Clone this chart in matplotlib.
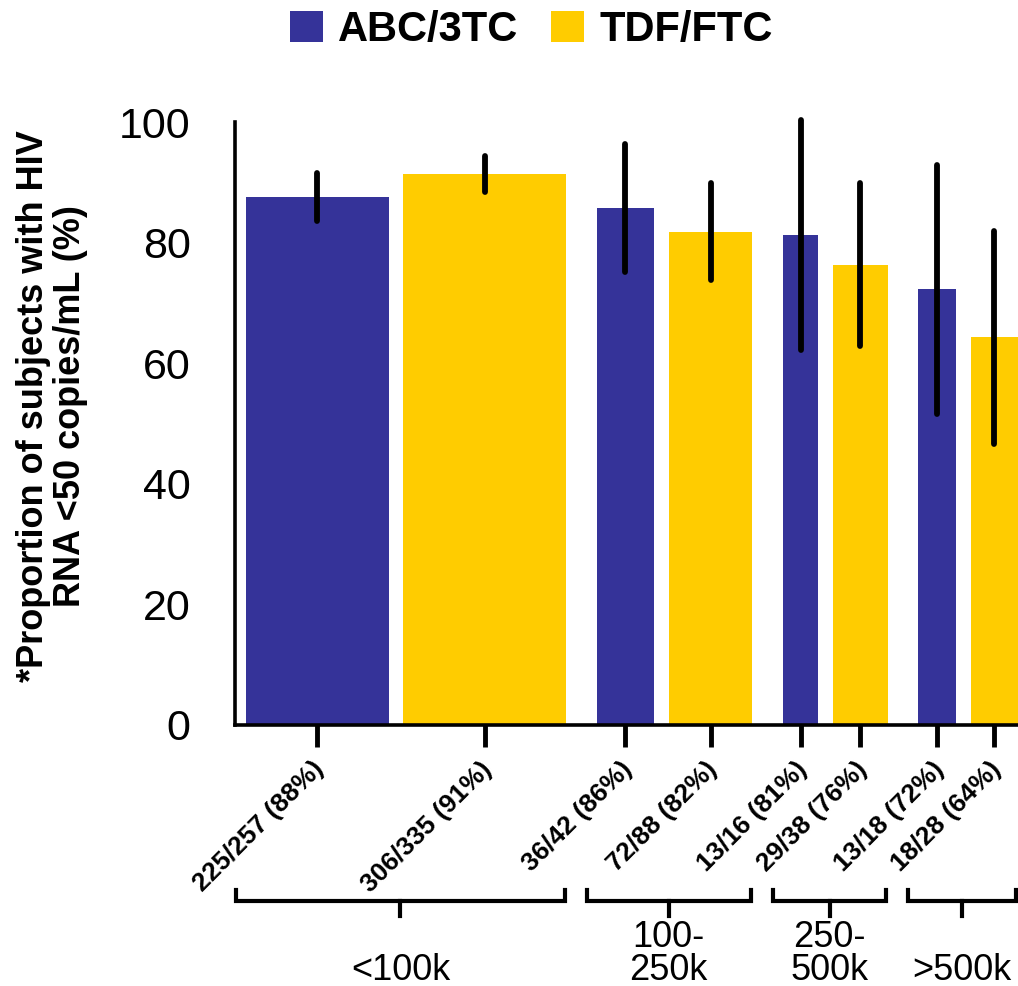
import numpy as np
import matplotlib
matplotlib.use("Agg")
import matplotlib.pyplot as plt
import matplotlib.transforms as mtransforms
from matplotlib.patches import Patch

plt.rcParams['font.family'] = ['Liberation Sans', 'DejaVu Sans']

# Baseline HIV RNA strata
strata = ["<100k", "100-\n250k", "250-\n500k", ">500k"]
regimens = ["ABC/3TC", "TDF/FTC"]

# Subjects with HIV RNA <50 copies/mL / subjects in stratum
abc_resp = [225, 36, 13, 13]
abc_total = [257, 42, 16, 18]
tdf_resp = [306, 72, 29, 18]
tdf_total = [335, 88, 38, 28]

# Half-width of the 95% confidence interval (percentage points)
abc_ci = [4.0, 10.6, 19.1, 20.7]
tdf_ci = [3.0, 8.1, 13.5, 17.7]

colors = {"ABC/3TC": "#353399", "TDF/FTC": "#FFCC00"}

fig = plt.figure(figsize=(10.18, 9.86), dpi=100)
W, H = 1018, 986
ax = fig.add_axes([235 / W, (H - 725) / H, 783 / W, 603 / H])

# bar width grows with the square root of the group size
margin, gap_in, gap_between = 1.25, 1.65, 3.4
x = margin
centers, heights, widths, errs, cols, labels = [], [], [], [], [], []
group_spans = []
for i in range(len(strata)):
    start = x
    for reg, resp, tot, ci in (("ABC/3TC", abc_resp, abc_total, abc_ci),
                               ("TDF/FTC", tdf_resp, tdf_total, tdf_ci)):
        w = np.sqrt(tot[i])
        pct = 100.0 * resp[i] / tot[i]
        centers.append(x + w / 2)
        heights.append(pct)
        widths.append(w)
        errs.append(ci[i])
        cols.append(colors[reg])
        labels.append(f"{resp[i]}/{tot[i]} ({pct:.0f}%)")
        end = x + w
        x += w + gap_in
    group_spans.append((start, end))
    x += gap_between - gap_in

ax.bar(centers, heights, width=widths, color=cols, linewidth=0, zorder=2)
eb = ax.errorbar(centers, heights, yerr=errs, fmt='none', ecolor='black',
                 elinewidth=4.2, capsize=0, zorder=3)
for coll in eb.lines[2]:
    coll.set_capstyle('round')
    coll.set_clip_on(False)

ax.set_xlim(0, 783 / 8.9)
ax.set_ylim(0, 100)
for s in ("top", "right"):
    ax.spines[s].set_visible(False)
for s in ("left", "bottom"):
    ax.spines[s].set_linewidth(2.6)
    ax.spines[s].set_color("black")

ax.set_yticks([0, 20, 40, 60, 80, 100])
ax.tick_params(axis='y', length=0, pad=32, labelsize=31)
ax.set_xticks(centers)
ax.set_xticklabels(labels, rotation=45, ha='right', va='top',
                   rotation_mode='anchor', fontweight='bold', fontsize=19)
ax.tick_params(axis='x', length=16, width=3.5, direction='out', pad=7)
shift = mtransforms.ScaledTranslation(-4 / 72, 0, fig.dpi_scale_trans)
for lab in ax.get_xticklabels():
    lab.set_transform(lab.get_transform() + shift)

# group brackets beneath the tick labels
trans = mtransforms.blended_transform_factory(ax.transData, ax.transAxes)
ftrans = mtransforms.blended_transform_factory(ax.transData, fig.transFigure)
y_bar, y_end, y_tick = -0.292, -0.274, -0.317
for (start, end), name in zip(group_spans, strata):
    left, right = start - 1.1, end - 0.2
    mid = (left + right) / 2
    ax.plot([left, left, right, right], [y_end, y_bar, y_bar, y_end],
            color='black', lw=3, transform=trans, clip_on=False,
            solid_joinstyle='miter')
    ax.plot([mid, mid], [y_bar, y_tick], color='black', lw=3,
            transform=trans, clip_on=False)
    ax.text(mid, -0.002, name, transform=ftrans, ha='center', va='bottom',
            fontsize=26, linespacing=0.92, multialignment='center')

fig.text(52 / W, 1 - 406 / H,
         "*Proportion of subjects with HIV\nRNA <50 copies/mL (%)",
         rotation=90, ha='center', va='center', fontsize=26,
         fontweight='bold', linespacing=1.05, multialignment='center')

handles = [Patch(facecolor=colors[r], edgecolor='none') for r in regimens]
fig.legend(handles, regimens, loc='upper center',
           bbox_to_anchor=(531 / W, 1 - 10 / H), ncol=2, frameon=False,
           prop={'weight': 'bold', 'size': 30}, handlelength=0.8,
           handleheight=0.8, handletextpad=0.35, columnspacing=0.8,
           borderpad=0, borderaxespad=0)

fig.savefig("out.png", dpi=100)
